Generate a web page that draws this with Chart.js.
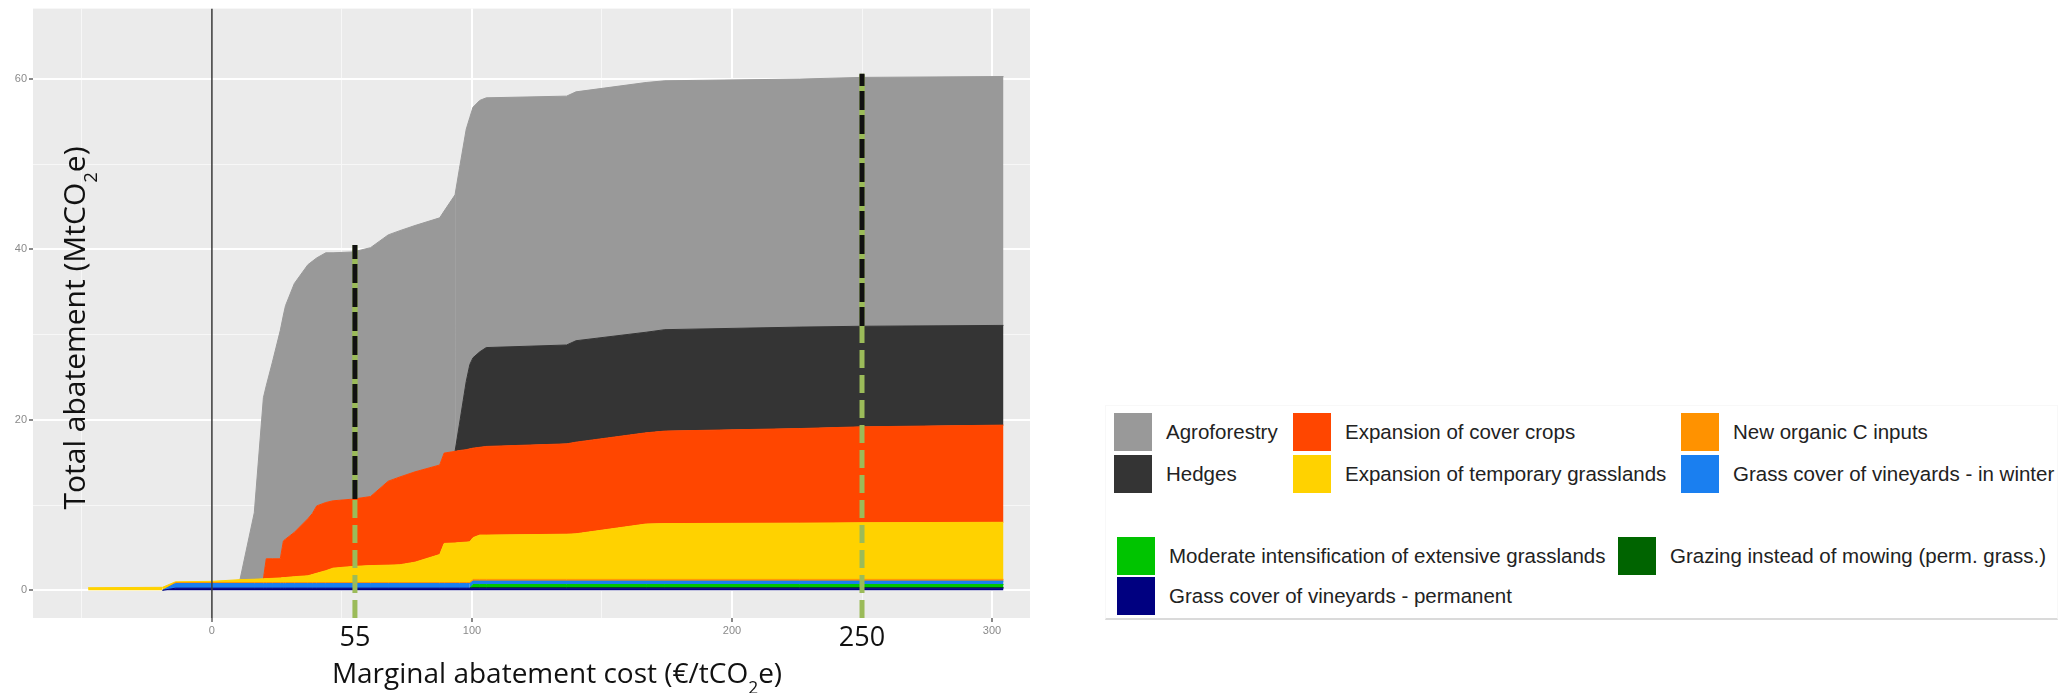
<!DOCTYPE html>
<html>
<head>
<meta charset="utf-8">
<title>Marginal abatement cost curve</title>
<script src="https://cdn.jsdelivr.net/npm/chart.js@4.4.1/dist/chart.umd.min.js"></script>
<style>
  html, body { margin: 0; padding: 0; background: #fff; }
  body { width: 2071px; height: 693px; position: relative; overflow: hidden; }
  #chart-wrap { position: absolute; left: 0; top: 0; width: 1040px; height: 693px; }
  #legend { position: absolute; left: 1105px; top: 405px; width: 951px; height: 212px;
            border: 1px solid #f8f8f8; border-bottom: 2px solid #dadada; }
  .item { position: absolute; display: flex; align-items: center; height: 38px;
          font-family: "Liberation Sans", Arial, sans-serif; font-size: 20.5px; color: #222; white-space: nowrap; }
  .swatch { width: 38px; height: 38px; margin-right: 14px; flex: none; }
</style>
</head>
<body>
<div id="chart-wrap"><canvas id="macc" width="1040" height="693"></canvas></div>
<div id="legend"></div>

<script>
// x grid (marginal abatement cost, EUR/tCO2e) shared by every stacked layer
const costs = [-47.6, -19, -14, 0, 10.8, 16.3, 19.8, 20.9, 23.2, 26.3, 27.5, 28.3, 31.7, 36.9, 38.6, 40.3,
  43.8, 46.6, 54.3, 61, 67.8, 72.3, 78.1, 87.6, 89.3, 93.5, 95.2, 97.8, 99.2, 100.4, 103, 105.5,
  136.4, 140, 167, 174.2, 226, 250, 304.4];

// layer thickness (MtCO2e) at each cost, bottom layer first
const vineyardsPermanent = [0, 0, 0.25, 0.25, 0.25, 0.25, 0.25, 0.25, 0.25, 0.25, 0.25, 0.25, 0.25, 0.25, 0.25, 0.25,
  0.25, 0.25, 0.25, 0.25, 0.25, 0.25, 0.25, 0.25, 0.25, 0.25, 0.25, 0.25, 0.25, 0.25, 0.25, 0.25,
  0.25, 0.25, 0.25, 0.25, 0.25, 0.25, 0.25];
const grazing = [0, 0, 0, 0, 0, 0, 0, 0, 0, 0, 0, 0, 0, 0, 0, 0,
  0, 0, 0, 0, 0, 0, 0, 0, 0, 0, 0, 0, 0, 0.08, 0.08, 0.08,
  0.08, 0.08, 0.08, 0.08, 0.08, 0.08, 0.08];
const moderateIntensification = [0, 0, 0, 0, 0, 0, 0, 0, 0, 0, 0, 0, 0, 0, 0, 0,
  0, 0, 0, 0, 0, 0, 0, 0, 0, 0, 0, 0, 0, 0.35, 0.35, 0.35,
  0.35, 0.35, 0.35, 0.35, 0.35, 0.35, 0.35];
const vineyardsWinter = [0, 0, 0.55, 0.55, 0.55, 0.55, 0.55, 0.55, 0.55, 0.55, 0.55, 0.55, 0.55, 0.55, 0.55, 0.55,
  0.55, 0.55, 0.55, 0.55, 0.55, 0.55, 0.55, 0.55, 0.55, 0.55, 0.55, 0.55, 0.55, 0.4, 0.4, 0.4,
  0.4, 0.4, 0.4, 0.4, 0.4, 0.4, 0.4];
const organicInputs = [0, 0, 0.1, 0.1, 0.1, 0.1, 0.1, 0.1, 0.1, 0.1, 0.1, 0.1, 0.1, 0.1, 0.1, 0.1,
  0.1, 0.1, 0.1, 0.1, 0.1, 0.1, 0.1, 0.1, 0.1, 0.1, 0.1, 0.1, 0.1, 0.2, 0.2, 0.2,
  0.2, 0.2, 0.2, 0.2, 0.2, 0.2, 0.2];
const temporaryGrasslands = [0.3, 0.35, 0.1, 0.15, 0.35, 0.4, 0.45, 0.47, 0.5, 0.55, 0.6, 0.6, 0.7, 0.8, 0.95, 1.1,
  1.4, 1.7, 1.9, 2.0, 2.05, 2.1, 2.4, 3.3, 4.6, 4.65, 4.7, 4.75, 4.8, 4.9, 5.2, 5.2,
  5.3, 5.35, 6.5, 6.55, 6.6, 6.65, 6.7];
const coverCrops = [0, 0, 0, 0, 0, 0, 0, 2.33, 2.3, 2.25, 4.3, 4.5, 5.2, 6.7, 7.15, 7.9,
  8.0, 7.9, 7.9, 8.1, 9.85, 10.3, 10.6, 10.5, 10.6, 10.75, 10.8, 10.85, 10.9, 10.5, 10.3, 10.4,
  10.6, 10.75, 10.7, 10.85, 11.1, 11.25, 11.4];
const hedges = [0, 0, 0, 0, 0, 0, 0, 0, 0, 0, 0, 0, 0, 0, 0, 0,
  0, 0, 0, 0, 0, 0, 0, 0, 0, 0, 3.1, 8.0, 9.9, 10.6, 11.2, 11.6,
  11.6, 11.9, 11.8, 11.9, 11.9, 11.8, 11.7];
const agroforestry = [0, 0, 0, 0, 0, 7.8, 21.25, 20.3, 23.0, 26.8, 26.5, 27.4, 29.2, 29.8, 29.6, 29.1,
  29.3, 29.1, 29.0, 29.2, 28.9, 28.9, 28.9, 29.0, 28.4, 30.1, 30.0, 29.6, 29.0, 29.4, 29.5, 29.3,
  29.2, 29.2, 29.3, 29.2, 29.1, 29.2, 29.2];

const seriesNames = ['Grass cover of vineyards - permanent', 'Grazing instead of mowing (perm. grass.)',
  'Moderate intensification of extensive grasslands', 'Grass cover of vineyards - in winter',
  'New organic C inputs', 'Expansion of temporary grasslands', 'Expansion of cover crops', 'Hedges', 'Agroforestry'];
const seriesColors = ['#000080', '#006400', '#00C400', '#1A7FF0', '#FF9200', '#FFD200', '#FF4600', '#343434', '#999999'];
const seriesValues = [vineyardsPermanent, grazing, moderateIntensification, vineyardsWinter, organicInputs,
  temporaryGrasslands, coverCrops, hedges, agroforestry];

// carbon price markers (55 and 250 EUR/tCO2e)
const markerCosts = [55, 250];
const markerTops = [40.5, 60.6];
const markerSplits = [10.7, 31.0];

// axes
const xMin = -68.8, xMax = 314.6;
const yMin = -3.25, yMax = 68.25;
const xTicks = [-50, 0, 50, 55, 100, 150, 200, 250, 300];
const xMajor = [0, 100, 200, 300];
const yTicks = [0, 10, 20, 30, 40, 50, 60];
const yMajor = [0, 20, 40, 60];

const xTitleParts = [['Marginal abatement cost (\u20AC/tCO', false], ['2', true], ['e)', false]];
const yTitleParts = [['Total abatement (MtCO', false], ['2', true], ['e)', false]];

const titleFont = '"Open Sans", "Noto Sans", sans-serif';
const smallFont = '"Liberation Sans", Arial, sans-serif';

// value of the tick a scriptable option is asked for (undefined outside ticks)
const tv = ctx => (ctx && ctx.tick) ? ctx.tick.value : undefined;

// grey ggplot-like panel
const panelBg = {
  id: 'panelBg',
  beforeDraw(chart) {
    const {ctx, chartArea: a} = chart;
    ctx.save();
    ctx.fillStyle = '#EBEBEB';
    ctx.fillRect(a.left, a.top, a.width, a.height);
    ctx.restore();
  }
};

function drawWithSub(ctx, parts, size) {
  let total = 0;
  const widths = parts.map(([t, sub]) => {
    ctx.font = (sub ? size * 0.62 : size) + 'px ' + titleFont;
    const w = ctx.measureText(t).width;
    total += w;
    return w;
  });
  let x = -total / 2;
  parts.forEach(([t, sub], i) => {
    ctx.font = (sub ? size * 0.62 : size) + 'px ' + titleFont;
    ctx.fillText(t, x, sub ? size * 0.4 : 0);
    x += widths[i];
  });
}

// axis titles are laid over the figure like in the original
const axisTitles = {
  id: 'axisTitles',
  afterDraw(chart) {
    const ctx = chart.ctx;
    ctx.save();
    ctx.fillStyle = '#111';
    ctx.textAlign = 'left';
    ctx.textBaseline = 'alphabetic';
    ctx.translate(557, 683);
    drawWithSub(ctx, xTitleParts, 28);
    ctx.restore();

    ctx.save();
    ctx.fillStyle = '#111';
    ctx.textAlign = 'left';
    ctx.textBaseline = 'alphabetic';
    ctx.translate(85, 328);
    ctx.rotate(-Math.PI / 2);
    drawWithSub(ctx, yTitleParts, 30);
    ctx.restore();
  }
};

const areaSets = seriesValues.map((vals, i) => ({
  label: seriesNames[i],
  data: costs.map((c, j) => ({x: c, y: vals[j]})),
  backgroundColor: seriesColors[i],
  borderColor: seriesColors[i],
  borderWidth: 1,
  segment: {
    borderColor: ctx => (vals[ctx.p0DataIndex] === 0 && vals[ctx.p1DataIndex] === 0) ? 'transparent' : seriesColors[i]
  },
  pointRadius: 0,
  tension: 0,
  fill: i === 0 ? 'origin' : '-1',
  stack: 'abatement'
}));

const lineSets = [{
  label: 'zero',
  data: [{x: 0, y: yMin}, {x: 0, y: yMax}],
  borderColor: '#3a3a3a',
  borderWidth: 1.5,
  pointRadius: 0,
  fill: false,
  stack: 'zero',
  order: -1
}];

markerCosts.forEach((c, i) => {
  lineSets.push({
    label: 'marker' + c,
    data: [{x: c, y: yMin}, {x: c, y: markerTops[i]}],
    borderColor: '#9BBB59',
    borderWidth: 5,
    borderDash: [18, 7],
    pointRadius: 0,
    fill: false,
    stack: 'm' + i + 'a',
    order: -2
  });
  lineSets.push({
    label: 'marker' + c + 'under',
    data: [{x: c, y: markerSplits[i]}, {x: c, y: markerTops[i]}],
    borderColor: '#9BBB59',
    borderWidth: 5,
    pointRadius: 0,
    fill: false,
    stack: 'm' + i + 'b',
    order: -3
  });
  lineSets.push({
    label: 'marker' + c + 'top',
    data: [{x: c, y: markerSplits[i]}, {x: c, y: markerTops[i]}],
    borderColor: '#111111',
    borderWidth: 5,
    borderDash: [19, 5],
    pointRadius: 0,
    fill: false,
    stack: 'm' + i + 'c',
    order: -4
  });
});

const bigTick = v => markerCosts.includes(v);

new Chart(document.getElementById('macc'), {
  type: 'line',
  data: {datasets: areaSets.concat(lineSets)},
  options: {
    responsive: false,
    animation: false,
    devicePixelRatio: 1,
    layout: {padding: {left: 0, top: 7, right: 10, bottom: 0}},
    plugins: {legend: {display: false}, tooltip: {enabled: false}},
    scales: {
      x: {
        type: 'linear',
        min: xMin,
        max: xMax,
        afterBuildTicks: s => { s.ticks = xTicks.map(v => ({value: v})); },
        afterFit: s => { s.height = 75; },
        border: {display: false},
        grid: {
          color: ctx => {
            const v = tv(ctx);
            if (v === 0 || v === 55) return 'transparent';
            return xMajor.includes(v) ? '#FFFFFF' : '#F7F7F7';
          },
          lineWidth: ctx => xMajor.includes(tv(ctx)) ? 2 : 1,
          tickColor: ctx => xMajor.includes(tv(ctx)) ? '#8a8a8a' : 'transparent',
          tickLength: 4
        },
        ticks: {
          autoSkip: false,
          maxRotation: 0,
          padding: 2,
          callback: v => (xMajor.includes(v) || bigTick(v)) ? String(v) : '',
          font: ctx => bigTick(tv(ctx))
            ? {family: titleFont, size: 27, lineHeight: 1.05}
            : {family: smallFont, size: 11},
          color: ctx => bigTick(tv(ctx)) ? '#111111' : '#8a8a8a'
        }
      },
      y: {
        type: 'linear',
        stacked: true,
        min: yMin,
        max: yMax,
        afterBuildTicks: s => { s.ticks = yTicks.map(v => ({value: v})); },
        afterFit: s => { s.width = 33; },
        border: {display: false},
        grid: {
          color: ctx => yMajor.includes(tv(ctx)) ? '#FFFFFF' : '#F7F7F7',
          lineWidth: ctx => yMajor.includes(tv(ctx)) ? 2 : 1,
          tickColor: ctx => yMajor.includes(tv(ctx)) ? '#8a8a8a' : 'transparent',
          tickLength: 4
        },
        ticks: {
          padding: 2,
          callback: v => yMajor.includes(v) ? String(v) : '',
          font: {family: smallFont, size: 11},
          color: '#8a8a8a'
        }
      }
    }
  },
  plugins: [panelBg, axisTitles]
});

// legend laid out like the original two blocks
const legendSlots = [
  {series: 8, left: 1114, top: 413},
  {series: 7, left: 1114, top: 455},
  {series: 6, left: 1293, top: 413},
  {series: 5, left: 1293, top: 455},
  {series: 4, left: 1681, top: 413},
  {series: 3, left: 1681, top: 455},
  {series: 2, left: 1117, top: 537},
  {series: 0, left: 1117, top: 577},
  {series: 1, left: 1618, top: 537}
];
const legendEl = document.getElementById('legend');
legendSlots.forEach(slot => {
  const item = document.createElement('div');
  item.className = 'item';
  item.style.left = (slot.left - 1106) + 'px';
  item.style.top = (slot.top - 406) + 'px';
  const sw = document.createElement('span');
  sw.className = 'swatch';
  sw.style.background = seriesColors[slot.series];
  const label = document.createElement('span');
  label.textContent = seriesNames[slot.series];
  item.appendChild(sw);
  item.appendChild(label);
  legendEl.appendChild(item);
});
</script>
</body>
</html>
